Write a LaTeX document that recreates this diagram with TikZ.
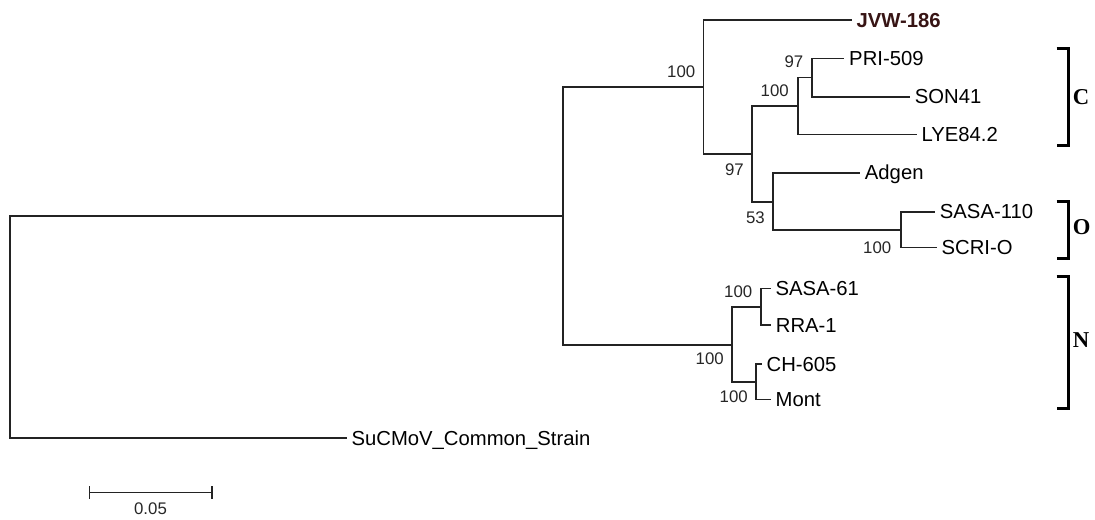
\documentclass[tikz,border=0pt]{standalone}
\usepackage{fontspec}
\setmainfont{Liberation Sans}
\newfontfamily\serifb{Liberation Serif}
\definecolor{jvwcol}{RGB}{55,20,20}
\definecolor{linecol}{RGB}{35,35,35}
\begin{document}
\begin{tikzpicture}[x=0.75pt,y=-0.75pt,
  br/.style={line width=1.2pt,draw=linecol},
  leaf/.style={anchor=west,inner xsep=3.5pt,inner ysep=0pt,font=\fontsize{15.2}{15}\selectfont,text height=10.8pt,text depth=0pt},
  boot/.style={anchor=east,inner sep=0pt,font=\fontsize{12.6}{12.6}\selectfont,text=black!85,text height=9pt,text depth=0pt},
  grp/.style={line width=2.3pt,draw=black},
  grplab/.style={anchor=west,inner sep=0pt,font=\serifb\bfseries\fontsize{17}{17}\selectfont,text height=11.3pt,text depth=0pt}]
\useasboundingbox (0,0) rectangle (1095,519);

% internal nodes
\coordinate (R)  at (10,327);
\coordinate (A)  at (562.7,216);
\coordinate (B)  at (703.5,87);
\coordinate (C)  at (752,154);
\coordinate (D)  at (797.7,106);
\coordinate (E)  at (811.7,77.3);
\coordinate (F)  at (772.7,201.7);
\coordinate (G)  at (901,230);
\coordinate (N1) at (731.7,345);
\coordinate (N2) at (760.7,306.7);
\coordinate (N3) at (756,381.7);

% leaves
\node[leaf,font=\bfseries\fontsize{15.2}{15}\selectfont,text=jvwcol] (jvw) at (851.7,20) {JVW-186};
\node[leaf] (pri)  at (844.3,58.3)  {PRI-509};
\node[leaf] (son)  at (910,96.7)    {SON41};
\node[leaf] (lye)  at (916.7,134.3) {LYE84.2};
\node[leaf] (adg)  at (860,172.7)   {Adgen};
\node[leaf] (s110) at (935,211.7)   {SASA-110};
\node[leaf] (scri) at (936.7,247.3) {SCRI-O};
\node[leaf] (s61)  at (770.7,288.3) {SASA-61};
\node[leaf] (rra)  at (771,325)     {RRA-1};
\node[leaf] (ch)   at (761.7,364)   {CH-605};
\node[leaf] (mont) at (770.7,399.3) {Mont};
\node[leaf] (su)   at (346.7,438)   {SuCMoV\_Common\_Strain};

% branches
\draw[br] (R) |- (A);
\draw[br] (R) |- (su.west);
\draw[br] (A) |- (B);
\draw[br] (A) |- (N1);
\draw[br] (B) |- (jvw.west);
\draw[br] (B) |- (C);
\draw[br] (C) |- (D);
\draw[br] (C) |- (F);
\draw[br] (D) |- (E);
\draw[br] (D) |- (lye.west);
\draw[br] (E) |- (pri.west);
\draw[br] (E) |- (son.west);
\draw[br] (F) |- (adg.west);
\draw[br] (F) |- (G);
\draw[br] (G) |- (s110.west);
\draw[br] (G) |- (scri.west);
\draw[br] (N1) |- (N2);
\draw[br] (N1) |- (N3);
\draw[br] (N2) |- (s61.west);
\draw[br] (N2) |- (rra.west);
\draw[br] (N3) |- (ch.west);
\draw[br] (N3) |- (mont.west);

% bootstrap values
\node[boot] (bB)  at (695.5,71)  {100};
\node[boot] (bE)  at (803.5,61)  {97};
\node[boot] (bD)  at (789,90)    {100};
\node[boot] (bC)  at (744,169)   {97};
\node[boot] (bF)  at (765,217)   {53};
\node[boot] (bG)  at (891.5,247.3) {100};
\node[boot] (bN2) at (752.5,291.7) {100};
\node[boot] (bN1) at (724,358)   {100};
\node[boot] (bN3) at (748,396)   {100};

% group brackets
\draw[grp] (1056.7,48.3) -- (1068.3,48.3) -- (1068.3,145.7) -- (1056.7,145.7);
\draw[grp] (1056.7,201.7) -- (1068.3,201.7) -- (1068.3,258.3) -- (1056.7,258.3);
\draw[grp] (1056.7,276.7) -- (1068.3,276.7) -- (1068.3,408.3) -- (1056.7,408.3);
\node[grplab] (gC) at (1072.5,96.7)  {C};
\node[grplab] (gO) at (1072.5,227.3) {O};
\node[grplab] (gN) at (1072.5,340)   {N};

% scale bar
\draw[br] (89.3,486) -- (89.3,499);
\draw[br] (211.7,486) -- (211.7,499);
\draw[br] (89.3,492.3) -- (211.7,492.3);
\node[boot,anchor=center] (sc) at (150.5,508.3) {0.05};
\end{tikzpicture}
\end{document}
